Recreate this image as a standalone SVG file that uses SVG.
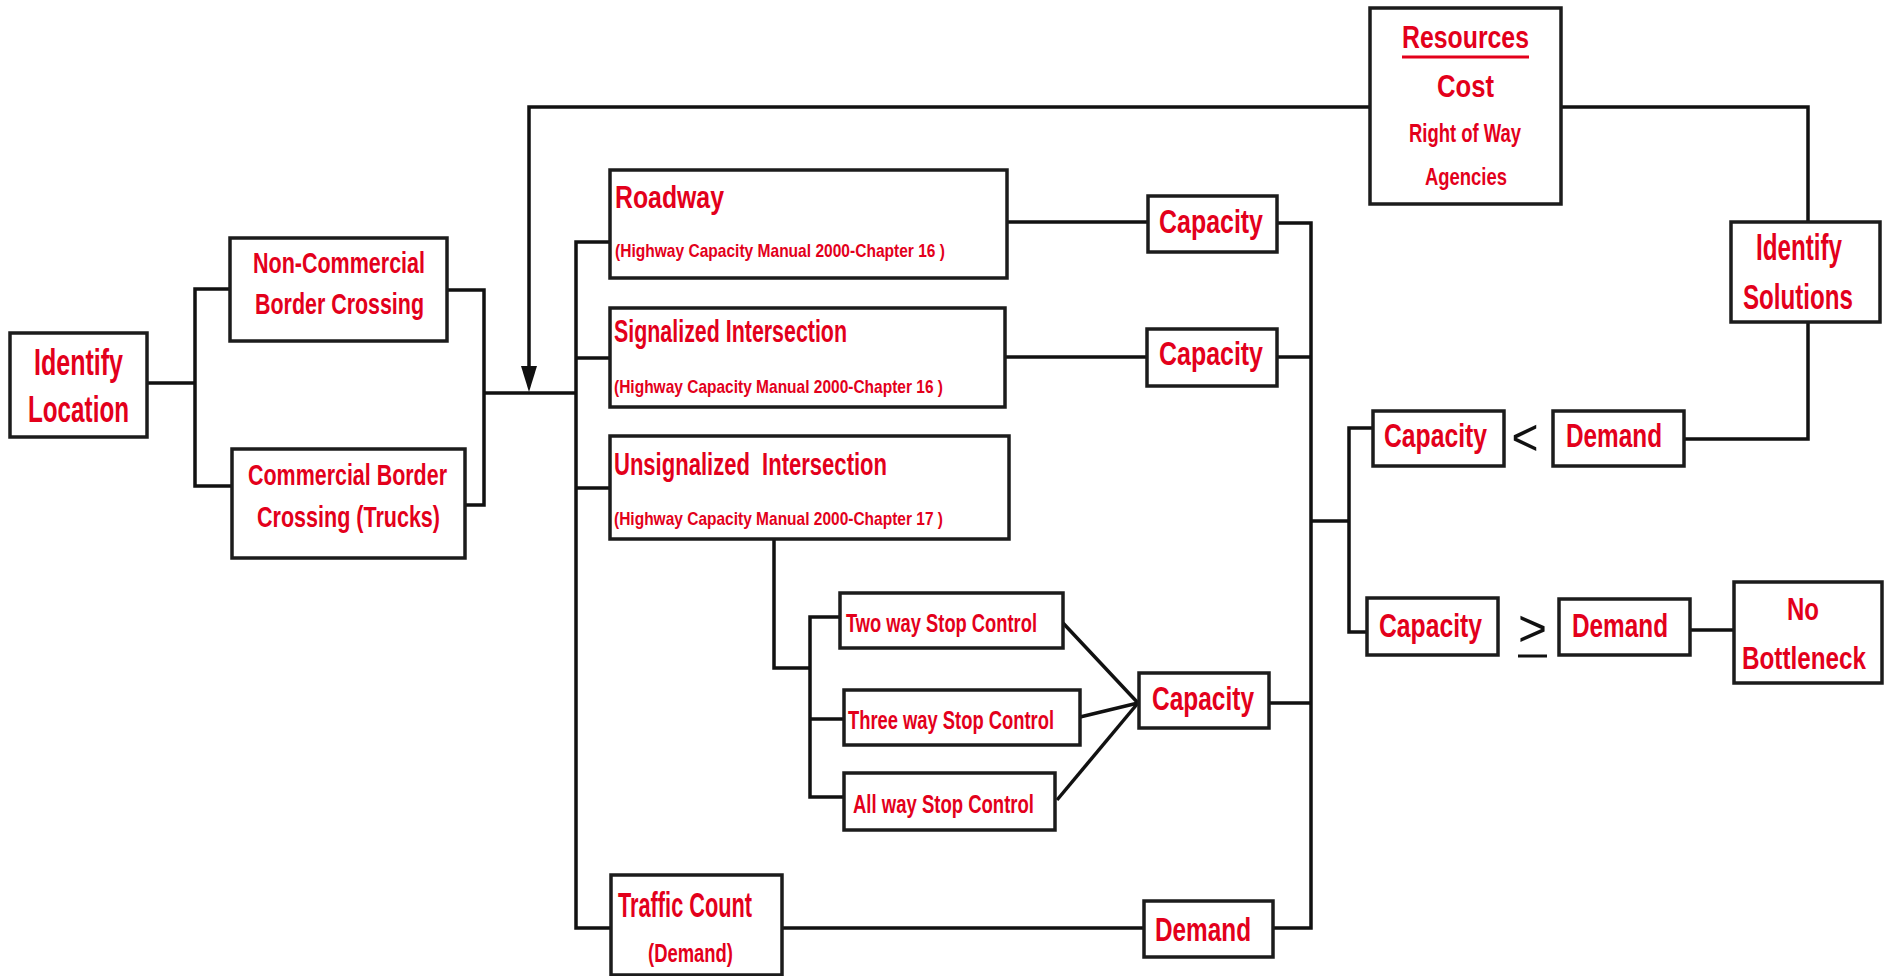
<svg xmlns="http://www.w3.org/2000/svg" width="1887" height="976" viewBox="0 0 1887 976">
<style>
.box{fill:#fff;stroke:#1c1c1c;stroke-width:3.5}
.t{font-family:"Liberation Sans",Arial,sans-serif;font-weight:bold;fill:#e3001b}
.c{text-anchor:middle}
.ln{fill:none;stroke:#111;stroke-width:3.5}
.sym{font-family:"Liberation Sans",Arial,sans-serif;fill:#111}
</style>
<rect width="1887" height="976" fill="#fff"/>
<g id="connectors">
<polyline class="ln" points="147,383 195,383"/>
<polyline class="ln" points="230,289 195,289 195,486 232,486"/>
<polyline class="ln" points="447,290 484,290 484,505 465,505"/>
<polyline class="ln" points="484,393 576,393"/>
<polyline class="ln" points="610,242 576,242 576,928 611,928"/>
<polyline class="ln" points="576,358 610,358"/>
<polyline class="ln" points="576,488 610,488"/>
<polyline class="ln" points="1808,222 1808,107 1561,107"/>
<polyline class="ln" points="1370,107 529,107 529,367"/>
<path d="M521,366 L537,366 L529,392 Z" fill="#111"/>
<polyline class="ln" points="1808,322 1808,439 1684,439"/>
<polyline class="ln" points="1007,222 1148,222"/>
<polyline class="ln" points="1005,357 1147,357"/>
<polyline class="ln" points="1277,223 1311,223 1311,928 1273,928"/>
<polyline class="ln" points="1277,357 1311,357"/>
<polyline class="ln" points="1269,703 1311,703"/>
<polyline class="ln" points="1311,521 1349,521"/>
<polyline class="ln" points="1373,428 1349,428 1349,632 1367,632"/>
<polyline class="ln" points="1690,630 1734,630"/>
<polyline class="ln" points="774,539 774,668 810,668"/>
<polyline class="ln" points="840,617 810,617 810,797 844,797"/>
<polyline class="ln" points="810,719 844,719"/>
<polyline class="ln" points="1063,623 1138,703"/>
<polyline class="ln" points="1080,717 1138,703"/>
<polyline class="ln" points="1057,800 1138,703"/>
<polyline class="ln" points="782,928 1144,928"/>
</g>
<g id="identify-location">
<rect class="box" x="10" y="333" width="137" height="104"/>
<text class="t c" x="78.5" y="375" font-size="36" textLength="89" lengthAdjust="spacingAndGlyphs">Identify</text>
<text class="t c" x="78.5" y="422" font-size="36" textLength="101" lengthAdjust="spacingAndGlyphs">Location</text>
</g>
<g id="non-commercial">
<rect class="box" x="230" y="238" width="217" height="103"/>
<text class="t c" x="339" y="273" font-size="30" textLength="172" lengthAdjust="spacingAndGlyphs">Non-Commercial</text>
<text class="t c" x="339.5" y="314" font-size="30" textLength="169" lengthAdjust="spacingAndGlyphs">Border Crossing</text>
</g>
<g id="commercial">
<rect class="box" x="232" y="449" width="233" height="109"/>
<text class="t c" x="347.5" y="485" font-size="29" textLength="199" lengthAdjust="spacingAndGlyphs">Commercial Border</text>
<text class="t c" x="348.5" y="527" font-size="29" textLength="183" lengthAdjust="spacingAndGlyphs">Crossing (Trucks)</text>
</g>
<g id="roadway">
<rect class="box" x="610" y="170" width="397" height="108"/>
<text class="t" x="615" y="208" font-size="31" textLength="109" lengthAdjust="spacingAndGlyphs">Roadway</text>
<text class="t" x="615" y="257" font-size="19" textLength="330" lengthAdjust="spacingAndGlyphs">(Highway Capacity Manual 2000-Chapter 16 )</text>
</g>
<g id="signalized">
<rect class="box" x="610" y="308" width="395" height="99"/>
<text class="t" x="614" y="342" font-size="31" textLength="233" lengthAdjust="spacingAndGlyphs">Signalized Intersection</text>
<text class="t" x="614" y="393" font-size="19" textLength="329" lengthAdjust="spacingAndGlyphs">(Highway Capacity Manual 2000-Chapter 16 )</text>
</g>
<g id="unsignalized">
<rect class="box" x="610" y="436" width="399" height="103"/>
<text class="t" x="614" y="475" font-size="31" textLength="273" lengthAdjust="spacingAndGlyphs" xml:space="preserve">Unsignalized  Intersection</text>
<text class="t" x="614" y="525" font-size="19" textLength="329" lengthAdjust="spacingAndGlyphs">(Highway Capacity Manual 2000-Chapter 17 )</text>
</g>
<g id="capacity-roadway">
<rect class="box" x="1148" y="196" width="129" height="56"/>
<text class="t c" x="1211" y="233" font-size="33" textLength="104" lengthAdjust="spacingAndGlyphs">Capacity</text>
</g>
<g id="capacity-signalized">
<rect class="box" x="1147" y="329" width="130" height="57"/>
<text class="t c" x="1211" y="365" font-size="33" textLength="104" lengthAdjust="spacingAndGlyphs">Capacity</text>
</g>
<g id="two-way">
<rect class="box" x="840" y="593" width="223" height="55"/>
<text class="t" x="846" y="632" font-size="25" textLength="191" lengthAdjust="spacingAndGlyphs">Two way Stop Control</text>
</g>
<g id="three-way">
<rect class="box" x="844" y="690" width="236" height="55"/>
<text class="t" x="848" y="729" font-size="25" textLength="206" lengthAdjust="spacingAndGlyphs">Three way Stop Control</text>
</g>
<g id="all-way">
<rect class="box" x="844" y="773" width="211" height="57"/>
<text class="t" x="853" y="813" font-size="25" textLength="181" lengthAdjust="spacingAndGlyphs">All way Stop Control</text>
</g>
<g id="capacity-unsignalized">
<rect class="box" x="1139" y="673" width="130" height="55"/>
<text class="t c" x="1203" y="710" font-size="33" textLength="102" lengthAdjust="spacingAndGlyphs">Capacity</text>
</g>
<g id="traffic-count">
<rect class="box" x="611" y="875" width="171" height="100"/>
<text class="t" x="618" y="917" font-size="35" textLength="134" lengthAdjust="spacingAndGlyphs">Traffic Count</text>
<text class="t c" x="690.5" y="962" font-size="25" textLength="85" lengthAdjust="spacingAndGlyphs">(Demand)</text>
</g>
<g id="demand-count">
<rect class="box" x="1144" y="901" width="129" height="56"/>
<text class="t c" x="1203" y="941" font-size="33" textLength="96" lengthAdjust="spacingAndGlyphs">Demand</text>
</g>
<g id="resources">
<rect class="box" x="1370" y="8" width="191" height="196"/>
<text class="t c" x="1465.5" y="48" font-size="31" textLength="127" lengthAdjust="spacingAndGlyphs">Resources</text>
<line x1="1402" y1="57" x2="1529" y2="57" stroke="#e3001b" stroke-width="3"/>
<text class="t c" x="1465.5" y="97" font-size="32" textLength="57" lengthAdjust="spacingAndGlyphs">Cost</text>
<text class="t c" x="1465" y="142" font-size="25" textLength="112" lengthAdjust="spacingAndGlyphs">Right of Way</text>
<text class="t c" x="1466" y="185" font-size="24" textLength="82" lengthAdjust="spacingAndGlyphs">Agencies</text>
</g>
<g id="identify-solutions">
<rect class="box" x="1731" y="222" width="149" height="100"/>
<text class="t c" x="1799" y="260" font-size="36" textLength="86" lengthAdjust="spacingAndGlyphs">Identify</text>
<text class="t c" x="1798" y="309" font-size="35" textLength="110" lengthAdjust="spacingAndGlyphs">Solutions</text>
</g>
<g id="capacity-less">
<rect class="box" x="1373" y="411" width="131" height="55"/>
<text class="t c" x="1435.5" y="447" font-size="33" textLength="103" lengthAdjust="spacingAndGlyphs">Capacity</text>
</g>
<g id="less-than">
<text class="sym" x="1525" y="455" font-size="52" text-anchor="middle" textLength="27" lengthAdjust="spacingAndGlyphs">&lt;</text>
</g>
<g id="demand-less">
<rect class="box" x="1553" y="411" width="131" height="55"/>
<text class="t c" x="1614" y="447" font-size="33" textLength="96" lengthAdjust="spacingAndGlyphs">Demand</text>
</g>
<g id="capacity-ge">
<rect class="box" x="1367" y="598" width="131" height="57"/>
<text class="t c" x="1430.5" y="637" font-size="33" textLength="103" lengthAdjust="spacingAndGlyphs">Capacity</text>
</g>
<g id="greater-equal">
<text class="sym" x="1532.5" y="646" font-size="52" text-anchor="middle" textLength="29" lengthAdjust="spacingAndGlyphs">&gt;</text>
<line x1="1518" y1="656" x2="1547" y2="656" stroke="#111" stroke-width="3"/>
</g>
<g id="demand-ge">
<rect class="box" x="1559" y="599" width="131" height="56"/>
<text class="t c" x="1620" y="637" font-size="33" textLength="96" lengthAdjust="spacingAndGlyphs">Demand</text>
</g>
<g id="no-bottleneck">
<rect class="box" x="1734" y="582" width="148" height="101"/>
<text class="t c" x="1803" y="620" font-size="32" textLength="32" lengthAdjust="spacingAndGlyphs">No</text>
<text class="t c" x="1804" y="669" font-size="31" textLength="124" lengthAdjust="spacingAndGlyphs">Bottleneck</text>
</g>
</svg>
